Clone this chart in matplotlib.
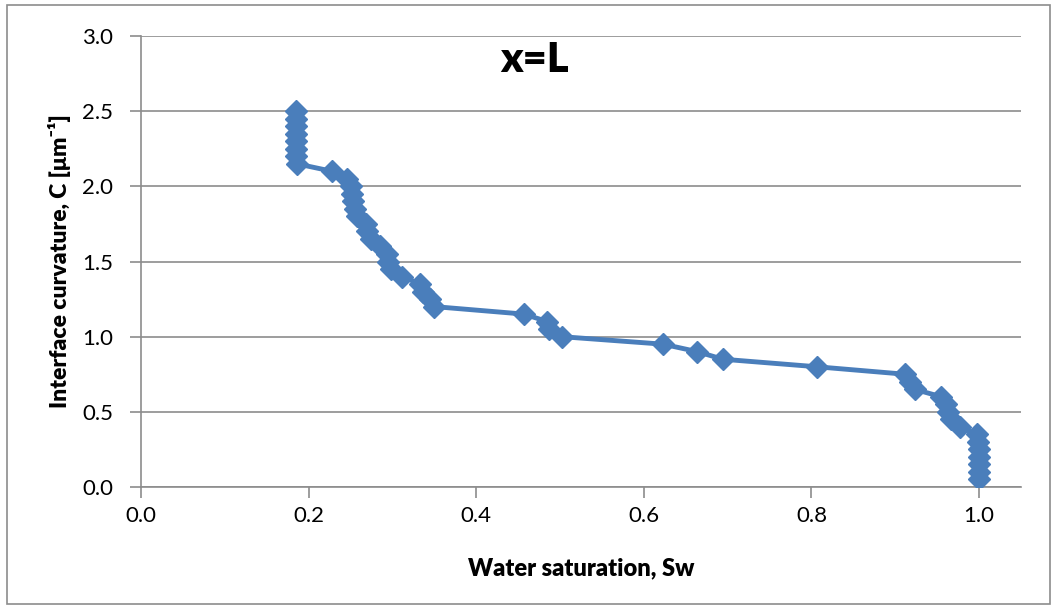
import matplotlib.pyplot as plt
from matplotlib.patches import Rectangle

plt.rcParams['font.family'] = ['Lato', 'DejaVu Sans']

# Curvature steps and the water saturation
curvature = [2.50, 2.45, 2.40, 2.35, 2.30, 2.25, 2.20, 2.15, 2.10, 2.05,
             2.00, 1.95, 1.90, 1.85, 1.80, 1.75, 1.70, 1.65, 1.60, 1.55,
             1.50, 1.45, 1.40, 1.35, 1.30, 1.25, 1.20, 1.15, 1.10, 1.05,
             1.00, 0.95, 0.90, 0.85, 0.80, 0.75, 0.70, 0.65, 0.60, 0.55,
             0.50, 0.45, 0.40, 0.35, 0.30, 0.25, 0.20, 0.15, 0.10, 0.05]
sw = [0.185, 0.185, 0.185, 0.185, 0.185, 0.185, 0.185, 0.186, 0.228, 0.246,
      0.250, 0.252, 0.253, 0.255, 0.258, 0.268, 0.270, 0.275, 0.285, 0.293,
      0.295, 0.298, 0.312, 0.333, 0.337, 0.345, 0.350, 0.457, 0.485, 0.487,
      0.502, 0.623, 0.664, 0.694, 0.806, 0.912, 0.917, 0.923, 0.955, 0.960,
      0.963, 0.967, 0.977, 0.997, 0.999, 1.000, 1.000, 1.000, 1.000, 1.000]

fig = plt.figure(figsize=(10.58, 6.08), dpi=100)
ax = fig.add_axes([141/1058, 1 - 487/608, 880/1058, 451/608])

# outer chart border
fig.patches.append(Rectangle((7/1058, 4/608), 1043/1058, 599/608, transform=fig.transFigure,
                             fill=False, edgecolor='#8c8c8c', linewidth=1.2))

ax.plot(sw, curvature, color='#4a7ebb', linewidth=3.5, marker='D', markersize=11,
        markerfacecolor='#4a7ebb', markeredgecolor='#4a7ebb', zorder=3)

ax.set_xlim(0, 1.05)
ax.set_ylim(0, 3.0)
ax.set_xticks([0, 0.2, 0.4, 0.6, 0.8, 1.0])
ax.set_xticklabels(['0.0', '0.2', '0.4', '0.6', '0.8', '1.0'])
ax.set_yticks([0, 0.5, 1.0, 1.5, 2.0, 2.5, 3.0])
ax.set_yticklabels(['0.0', '0.5', '1.0', '1.5', '2.0', '2.5', '3.0'])
ax.yaxis.grid(True, color='#8c8c8c', linewidth=1.2)
ax.set_axisbelow(True)
for s in ['top', 'right']:
    ax.spines[s].set_visible(False)
for s in ['left', 'bottom']:
    ax.spines[s].set_color('#8c8c8c')
    ax.spines[s].set_linewidth(1.2)
ax.tick_params(axis='both', direction='out', length=8, width=1.2, color='#8c8c8c',
               labelsize=16)
ax.tick_params(axis='y', pad=12)
ax.tick_params(axis='x', pad=6)

ax.set_xlabel('Water saturation, Sw', fontsize=17, fontweight='heavy', labelpad=22)
ax.set_ylabel('Interface curvature, C [μm⁻¹]', fontsize=16.5, fontweight='heavy', labelpad=8)
ax.text(0.469, 2.84, 'x=L', fontsize=30, fontweight='heavy', ha='center', va='center')

fig.savefig('out.png', dpi=100)
